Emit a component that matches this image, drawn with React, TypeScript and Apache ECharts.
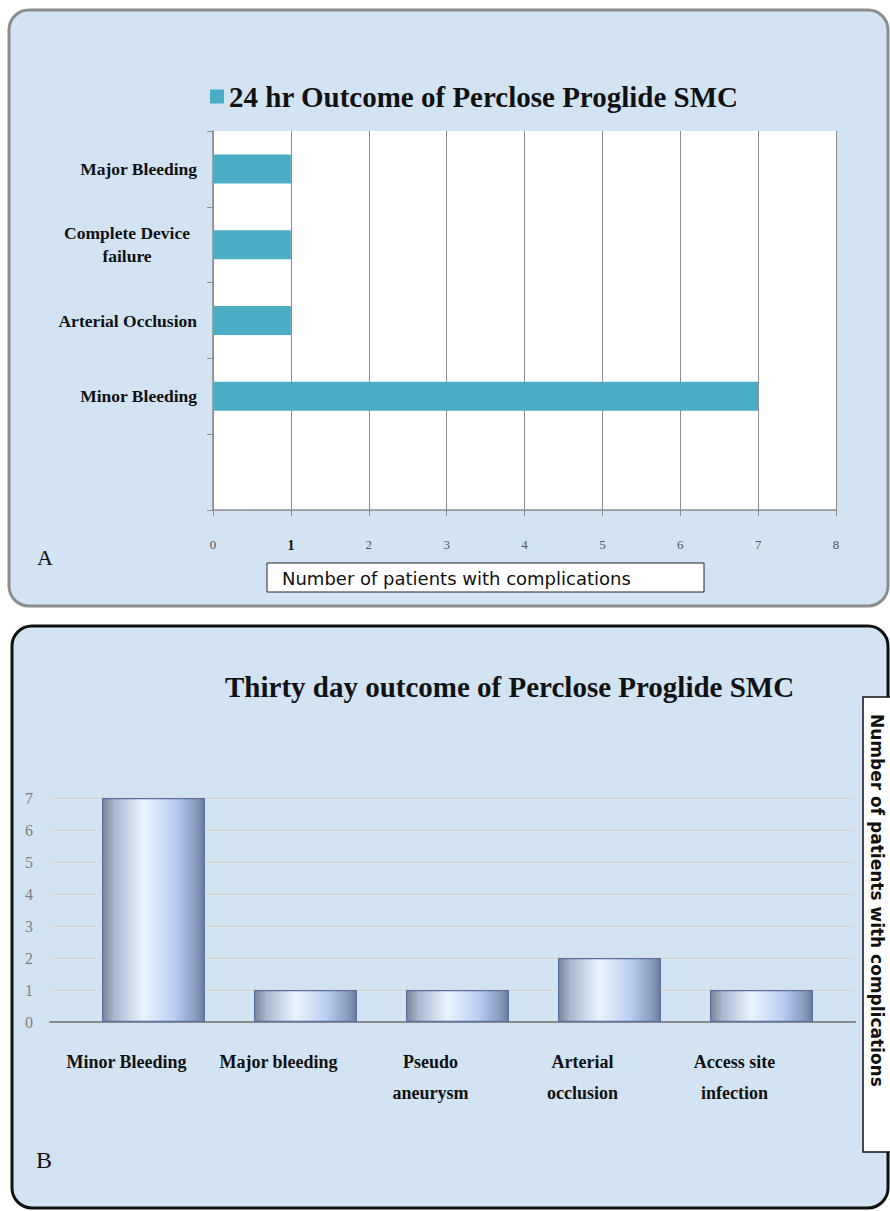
import React, { useEffect, useRef } from "react";
import * as echarts from "echarts";

// ---- Data ----
const seriesAName = "24 hr Outcome of Perclose Proglide SMC";
const aCategories = ["Major Bleeding", "Complete Device\nfailure", "Arterial Occlusion", "Minor Bleeding", ""];
const aValues = [1, 1, 1, 7, null];

const titleB = "Thirty day outcome of Perclose Proglide SMC";
const bCategories = ["Minor Bleeding", "Major bleeding", "Pseudo\naneurysm", "Arterial\nocclusion", "Access site\ninfection"];
const bValues = [7, 1, 1, 2, 1];

const axisTitle = "Number of patients with complications";

const SERIF = "Liberation Serif, Times New Roman, serif";
const SANS = "DejaVu Sans, Verdana, sans-serif";
const PANEL_FILL = "#d2e3f4";

export default function App() {
  const ref = useRef<HTMLDivElement>(null);

  useEffect(() => {
    if (!ref.current) return;
    const chart = echarts.init(ref.current, undefined, { renderer: "svg" });

    const barGradient = new echarts.graphic.LinearGradient(0, 0, 1, 0, [
      { offset: 0, color: "#7b8498" },
      { offset: 0.12, color: "#aab8d0" },
      { offset: 0.4, color: "#eaf5ff" },
      { offset: 0.72, color: "#b6ccf0" },
      { offset: 0.92, color: "#8699bd" },
      { offset: 1, color: "#6a7a98" },
    ]);

    chart.setOption({
      animation: false,
      legend: {
        data: [seriesAName],
        left: 205,
        top: 77,
        icon: "rect",
        itemWidth: 14,
        itemHeight: 14,
        textStyle: { fontFamily: SERIF, fontSize: 29, fontWeight: "bold", color: "#111" },
      },
      title: {
        text: titleB,
        left: 220,
        top: 667,
        textStyle: { fontFamily: SERIF, fontSize: 29, fontWeight: "bold", color: "#111" },
      },
      grid: [
        { left: 213, right: 54, top: 131, bottom: 701, show: true, backgroundColor: "#ffffff", borderWidth: 0 },
        { left: 50, right: 35, top: 798, bottom: 189 },
        { left: 77.5, right: 52.5, top: 798, bottom: 189 },
      ],
      xAxis: [
        {
          gridIndex: 0,
          type: "value",
          min: 0,
          max: 8,
          interval: 1,
          axisLine: { show: true, lineStyle: { color: "#8c8c8c", width: 1.5 } },
          axisTick: { show: true, length: 6, lineStyle: { color: "#8c8c8c" } },
          splitLine: { show: true, lineStyle: { color: "#8c8c8c", width: 1 } },
          axisLabel: {
            margin: 28,
            fontFamily: SERIF,
            fontSize: 13,
            color: "#555",
            formatter: (v: number) => (v === 1 ? "{b|1}" : String(v)),
            rich: { b: { fontFamily: SERIF, fontWeight: "bold", fontSize: 14, color: "#111" } },
          },
        },
        {
          gridIndex: 1,
          type: "value",
          min: 0,
          max: 1,
          axisLine: { show: true, lineStyle: { color: "#8a8a8a", width: 2 } },
          axisTick: { show: false },
          axisLabel: { show: false },
          splitLine: { show: false },
        },
        {
          gridIndex: 2,
          type: "category",
          data: bCategories,
          axisLine: { show: false },
          axisTick: { show: false },
          axisLabel: {
            margin: 24,
            fontFamily: SERIF,
            fontSize: 18,
            fontWeight: "bold",
            color: "#111",
            lineHeight: 31,
            padding: [0, 54, 0, 0],
            interval: 0,
          },
        },
      ],
      yAxis: [
        {
          gridIndex: 0,
          type: "category",
          inverse: true,
          data: aCategories,
          axisLine: { show: true, lineStyle: { color: "#8c8c8c", width: 1.5 } },
          axisTick: { show: true, length: 6, lineStyle: { color: "#8c8c8c" } },
          axisLabel: {
            margin: 16,
            fontFamily: SERIF,
            fontSize: 17.5,
            fontWeight: "bold",
            color: "#111",
            lineHeight: 23,
            interval: 0,
            formatter: (v: string) =>
              v.includes("\n") ? v.split("\n").map((s) => `{c|${s}}`).join("\n") : v,
            rich: {
              c: { width: 140, align: "center", fontFamily: SERIF, fontSize: 17.5, fontWeight: "bold", color: "#111", lineHeight: 23 },
            },
          },
        },
        {
          gridIndex: 1,
          type: "value",
          min: 0,
          max: 7,
          interval: 1,
          axisLine: { show: false },
          axisTick: { show: false },
          splitLine: { show: true, lineStyle: { color: "#dadada", width: 2 } },
          axisLabel: { margin: 17, fontFamily: SERIF, fontSize: 16, color: "#7f7f7f" },
        },
        { gridIndex: 2, type: "value", min: 0, max: 7, show: false },
      ],
      series: [
        {
          name: seriesAName,
          type: "bar",
          xAxisIndex: 0,
          yAxisIndex: 0,
          data: aValues,
          barWidth: 29,
          itemStyle: { color: "#4bacc6" },
        },
        {
          name: "Thirty day",
          type: "bar",
          xAxisIndex: 2,
          yAxisIndex: 2,
          data: bValues,
          barWidth: 103,
          itemStyle: { color: barGradient, borderColor: "#5573a8", borderWidth: 1.2 },
        },
      ],
      graphic: [
        {
          type: "rect",
          z: -10,
          shape: { x: 9, y: 10, width: 879, height: 596, r: 20 },
          style: { fill: PANEL_FILL, stroke: "#8c8c8c", lineWidth: 3 },
        },
        {
          type: "rect",
          z: -10,
          shape: { x: 12, y: 626, width: 876, height: 582, r: 20 },
          style: { fill: PANEL_FILL, stroke: "#111", lineWidth: 3 },
        },
        {
          type: "rect",
          z: 10,
          shape: { x: 267, y: 563, width: 437, height: 29 },
          style: { fill: "#ffffff", stroke: "#222", lineWidth: 1 },
        },
        {
          type: "text",
          z: 11,
          x: 282,
          y: 578,
          style: { text: axisTitle, fontFamily: SANS, fontSize: 18, fill: "#111", verticalAlign: "middle" },
        },
        {
          type: "text",
          z: 11,
          x: 37,
          y: 557,
          style: { text: "A", fontFamily: SERIF, fontSize: 22, fill: "#111", verticalAlign: "middle" },
        },
        {
          type: "rect",
          z: 10,
          shape: { x: 863, y: 697, width: 40, height: 455 },
          style: { fill: "#ffffff", stroke: "#111", lineWidth: 1.5 },
        },
        {
          type: "text",
          z: 11,
          x: 877,
          y: 714,
          rotation: -Math.PI / 2,
          style: { text: axisTitle, fontFamily: SANS, fontSize: 17, fontWeight: "bold", fill: "#111", verticalAlign: "middle", align: "left" },
        },
        {
          type: "text",
          z: 11,
          x: 36,
          y: 1160,
          style: { text: "B", fontFamily: SERIF, fontSize: 24, fill: "#111", verticalAlign: "middle" },
        },
      ],
    });

    return () => chart.dispose();
  }, []);

  return <div ref={ref} style={{ position: "absolute", left: 0, top: 0, width: 890, height: 1211 }} />;
}
